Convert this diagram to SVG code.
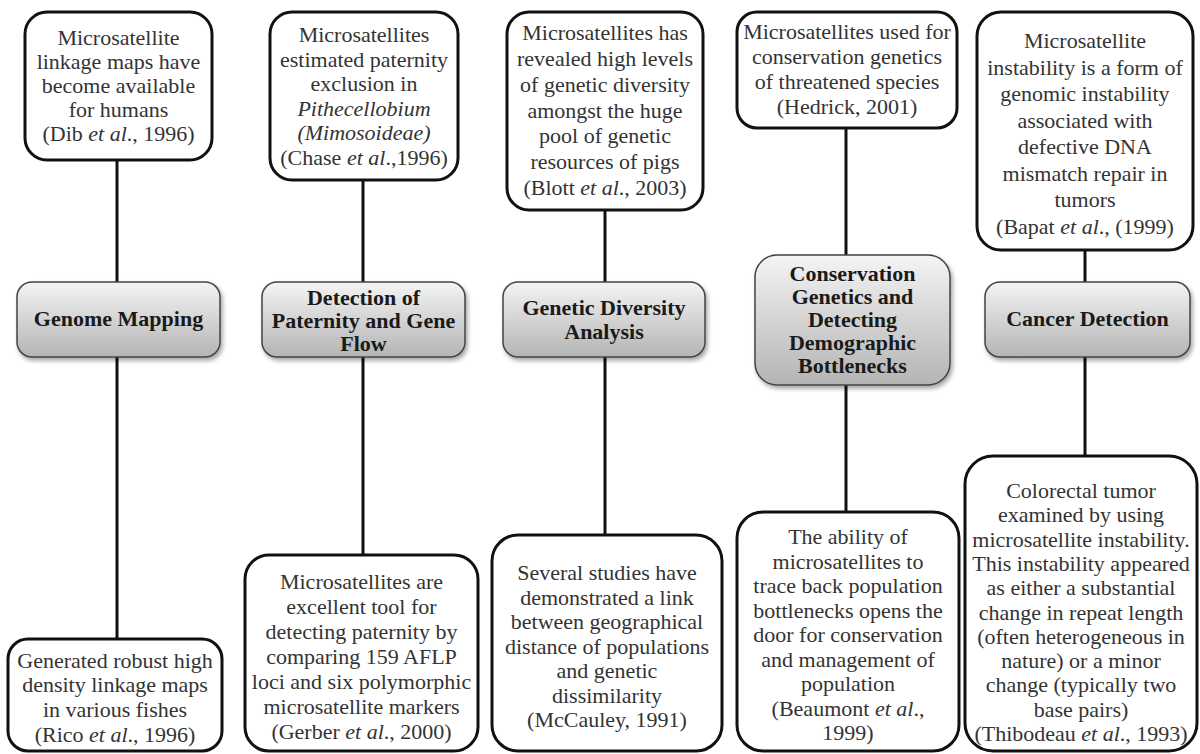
<svg xmlns="http://www.w3.org/2000/svg" width="1200" height="754" viewBox="0 0 1200 754">
<style>
.box{fill:#fff;stroke:#111;stroke-width:3}
.mid{fill:url(#g);stroke:#444;stroke-width:1.5;filter:url(#sh)}
.t{font-size:22px;fill:#333;text-anchor:middle}
.b{font-size:22px;font-weight:bold;fill:#1a1a1a;text-anchor:middle}
.i{font-style:italic}
.c{stroke:#111;stroke-width:3;fill:none}
</style>
<defs>
<linearGradient id="g" x1="0" y1="0" x2="0" y2="1">
<stop offset="0" stop-color="#f4f4f4"/>
<stop offset="1" stop-color="#b4b4b4"/>
</linearGradient>
<filter id="sh" x="-10%" y="-10%" width="125%" height="130%">
<feDropShadow dx="2" dy="3" stdDeviation="2" flood-color="#000" flood-opacity="0.35"/>
</filter>
</defs>
<rect width="1200" height="754" fill="#fff"/>
<g id="connectors">
<line class="c" x1="117" y1="160" x2="117" y2="282"/>
<line class="c" x1="117" y1="357" x2="117" y2="639"/>
<line class="c" x1="363" y1="180" x2="363" y2="282"/>
<line class="c" x1="363" y1="357" x2="363" y2="555"/>
<line class="c" x1="605" y1="210" x2="605" y2="282"/>
<line class="c" x1="605" y1="357" x2="605" y2="535"/>
<line class="c" x1="846" y1="128" x2="846" y2="255"/>
<line class="c" x1="846" y1="385" x2="846" y2="512"/>
<line class="c" x1="1085" y1="250" x2="1085" y2="282"/>
<line class="c" x1="1085" y1="357" x2="1085" y2="456"/>
</g>
<g font-family="Liberation Serif, DejaVu Serif, serif">
<g id="top1">
<rect class="box" x="25" y="12" width="187" height="148" rx="22"/>
<text class="t" x="118.5" y="45">Microsatellite</text>
<text class="t" x="118.5" y="69">linkage maps have</text>
<text class="t" x="118.5" y="93">become available</text>
<text class="t" x="118.5" y="117">for humans</text>
<text class="t" x="118.5" y="141">(Dib <tspan class="i">et al</tspan>., 1996)</text>
</g>
<g id="top2">
<rect class="box" x="270" y="12" width="188" height="168" rx="22"/>
<text class="t" x="364" y="42">Microsatellites</text>
<text class="t" x="364" y="67">estimated paternity</text>
<text class="t" x="364" y="91">exclusion in</text>
<text class="t i" x="364" y="116">Pithecellobium</text>
<text class="t i" x="364" y="140">(Mimosoideae)</text>
<text class="t" x="364" y="165">(Chase <tspan class="i">et al</tspan>.,1996)</text>
</g>
<g id="top3">
<rect class="box" x="507" y="12" width="196" height="198" rx="22"/>
<text class="t" x="605" y="40">Microsatellites has</text>
<text class="t" x="605" y="66">revealed high levels</text>
<text class="t" x="605" y="92">of genetic diversity</text>
<text class="t" x="605" y="118">amongst the huge</text>
<text class="t" x="605" y="143">pool of genetic</text>
<text class="t" x="605" y="169">resources of pigs</text>
<text class="t" x="605" y="195">(Blott <tspan class="i">et al</tspan>., 2003)</text>
</g>
<g id="top4">
<rect class="box" x="737" y="12" width="220" height="116" rx="20"/>
<text class="t" x="847" y="39">Microsatellites used for</text>
<text class="t" x="847" y="64">conservation genetics</text>
<text class="t" x="847" y="89">of threatened species</text>
<text class="t" x="847" y="114">(Hedrick, 2001)</text>
</g>
<g id="top5">
<rect class="box" x="977" y="12" width="216" height="238" rx="24"/>
<text class="t" x="1085" y="48">Microsatellite</text>
<text class="t" x="1085" y="74.5">instability is a form of</text>
<text class="t" x="1085" y="101">genomic instability</text>
<text class="t" x="1085" y="127.5">associated with</text>
<text class="t" x="1085" y="154">defective DNA</text>
<text class="t" x="1085" y="180.5">mismatch repair in</text>
<text class="t" x="1085" y="207">tumors</text>
<text class="t" x="1085" y="233.5">(Bapat <tspan class="i">et al</tspan>., (1999)</text>
</g>
<g id="mid1">
<rect class="mid" x="17" y="282" width="203" height="75" rx="15"/>
<text class="b" x="118.5" y="326">Genome Mapping</text>
</g>
<g id="mid2">
<rect class="mid" x="262" y="282" width="203" height="75" rx="15"/>
<text class="b" x="363.5" y="305">Detection of</text>
<text class="b" x="363.5" y="328">Paternity and Gene</text>
<text class="b" x="363.5" y="351">Flow</text>
</g>
<g id="mid3">
<rect class="mid" x="503" y="282" width="202" height="75" rx="15"/>
<text class="b" x="604" y="315">Genetic Diversity</text>
<text class="b" x="604" y="339">Analysis</text>
</g>
<g id="mid4">
<rect class="mid" x="755" y="255" width="195" height="130" rx="22"/>
<text class="b" x="852.5" y="281">Conservation</text>
<text class="b" x="852.5" y="304">Genetics and</text>
<text class="b" x="852.5" y="327">Detecting</text>
<text class="b" x="852.5" y="350">Demographic</text>
<text class="b" x="852.5" y="373">Bottlenecks</text>
</g>
<g id="mid5">
<rect class="mid" x="985" y="282" width="205" height="75" rx="15"/>
<text class="b" x="1087.5" y="326">Cancer Detection</text>
</g>
<g id="bot1">
<rect class="box" x="8" y="639" width="214" height="112" rx="20"/>
<text class="t" x="115" y="668">Generated robust high</text>
<text class="t" x="115" y="692">density linkage maps</text>
<text class="t" x="115" y="717">in various fishes</text>
<text class="t" x="115" y="742">(Rico <tspan class="i">et al</tspan>., 1996)</text>
</g>
<g id="bot2">
<rect class="box" x="245" y="555" width="233" height="196" rx="24"/>
<text class="t" x="361.5" y="589">Microsatellites are</text>
<text class="t" x="361.5" y="614">excellent tool for</text>
<text class="t" x="361.5" y="639">detecting paternity by</text>
<text class="t" x="361.5" y="664">comparing 159 AFLP</text>
<text class="t" x="361.5" y="689">loci and six polymorphic</text>
<text class="t" x="361.5" y="714">microsatellite markers</text>
<text class="t" x="361.5" y="739">(Gerber <tspan class="i">et al</tspan>., 2000)</text>
</g>
<g id="bot3">
<rect class="box" x="492" y="535" width="230" height="216" rx="26"/>
<text class="t" x="607" y="580">Several studies have</text>
<text class="t" x="607" y="604.5">demonstrated a link</text>
<text class="t" x="607" y="629">between geographical</text>
<text class="t" x="607" y="653.5">distance of populations</text>
<text class="t" x="607" y="678">and genetic</text>
<text class="t" x="607" y="702.5">dissimilarity</text>
<text class="t" x="607" y="727">(McCauley, 1991)</text>
</g>
<g id="bot4">
<rect class="box" x="737" y="512" width="222" height="239" rx="26"/>
<text class="t" x="848" y="544">The ability of</text>
<text class="t" x="848" y="568.5">microsatellites to</text>
<text class="t" x="848" y="593">trace back population</text>
<text class="t" x="848" y="617.5">bottlenecks opens the</text>
<text class="t" x="848" y="642">door for conservation</text>
<text class="t" x="848" y="666.5">and management of</text>
<text class="t" x="848" y="691">population</text>
<text class="t" x="848" y="715.5">(Beaumont <tspan class="i">et al</tspan>.,</text>
<text class="t" x="848" y="740">1999)</text>
</g>
<g id="bot5">
<rect class="box" x="965" y="456" width="232" height="295" rx="28"/>
<text class="t" x="1081" y="498">Colorectal tumor</text>
<text class="t" x="1081" y="522.3">examined by using</text>
<text class="t" x="1081" y="546.6">microsatellite instability.</text>
<text class="t" x="1081" y="570.9">This instability appeared</text>
<text class="t" x="1081" y="595.2">as either a substantial</text>
<text class="t" x="1081" y="619.5">change in repeat length</text>
<text class="t" x="1081" y="643.8">(often heterogeneous in</text>
<text class="t" x="1081" y="668.1">nature) or a minor</text>
<text class="t" x="1081" y="692.4">change (typically two</text>
<text class="t" x="1081" y="716.7">base pairs)</text>
<text class="t" x="1081" y="741">(Thibodeau <tspan class="i">et al</tspan>., 1993)</text>
</g>
</g>
</svg>
